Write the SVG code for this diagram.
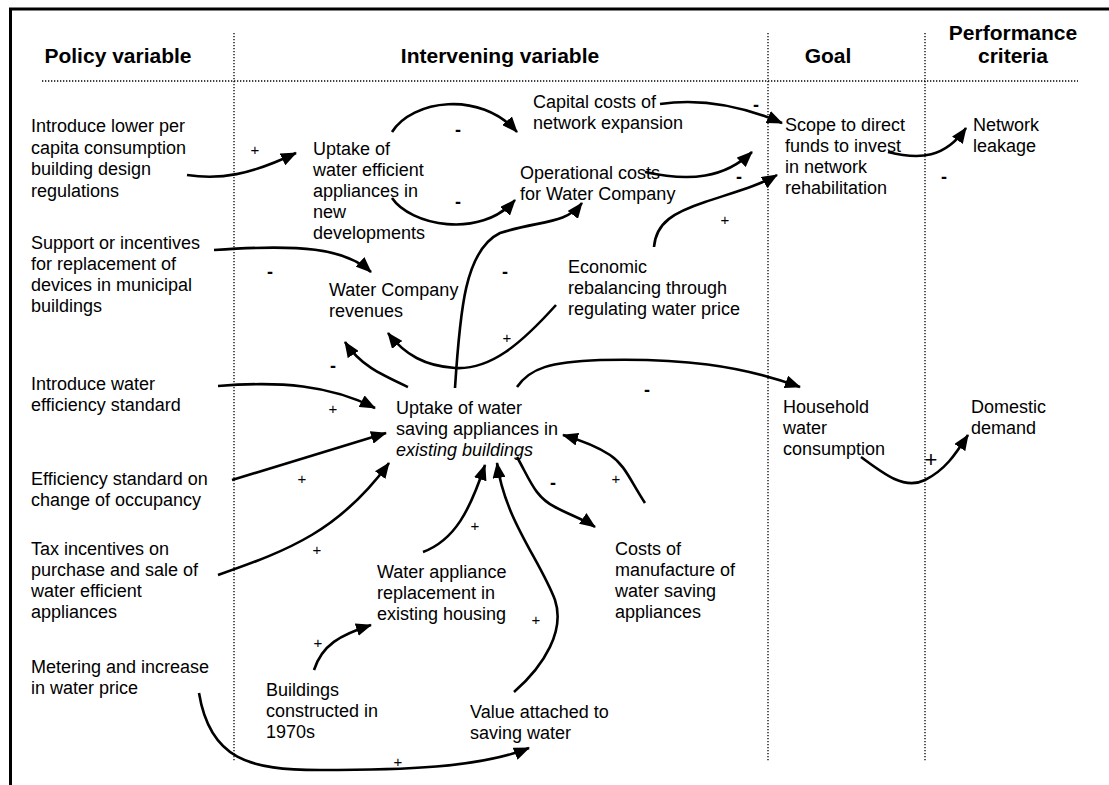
<svg xmlns="http://www.w3.org/2000/svg" width="1109" height="785" viewBox="0 0 1109 785">
<style>
text{font-family:"Liberation Sans",Arial,sans-serif;fill:#000}
.t{font-size:18px}
.h{font-size:21px;font-weight:bold;text-anchor:middle}
.s{font-size:15px;text-anchor:middle}
.m{font-size:18px;font-weight:bold;text-anchor:middle}
.c{fill:none;stroke:#000;stroke-width:2.6;marker-end:url(#ah)}
.d{fill:none;stroke:#000;stroke-width:1.3;stroke-dasharray:1.3 1.7}
</style>
<defs>
<marker id="ah" viewBox="0 0 16 13" refX="15" refY="6.5" markerWidth="16" markerHeight="13" markerUnits="userSpaceOnUse" orient="auto">
<path d="M0,0 L16,6.5 L0,13 z" fill="#000"/>
</marker>
</defs>
<rect width="1109" height="785" fill="#fff"/>
<g id="frame">
<line x1="9" y1="9" x2="1109" y2="9" stroke="#000" stroke-width="3"/>
<line x1="10.5" y1="9" x2="10.5" y2="785" stroke="#000" stroke-width="3"/>
<line class="d" x1="42" y1="81" x2="1078" y2="81"/>
<line class="d" x1="234" y1="33" x2="234" y2="761"/>
<line class="d" x1="768" y1="33" x2="768" y2="761"/>
<line class="d" x1="925" y1="33" x2="925" y2="761"/>
</g>
<g id="headers">
<text class="h" x="118" y="63">Policy variable</text>
<text class="h" x="500" y="63">Intervening variable</text>
<text class="h" x="828" y="63">Goal</text>
<text class="h" x="1013" y="40">Performance</text>
<text class="h" x="1013" y="63">criteria</text>
</g>
<g id="n_regulations" class="t"><text x="31" y="132">Introduce lower per</text><text x="31" y="154">capita consumption</text><text x="31" y="175">building design</text><text x="31" y="197">regulations</text></g>
<g id="n_uptake_new" class="t"><text x="313" y="155">Uptake of</text><text x="313" y="176">water efficient</text><text x="313" y="197">appliances in</text><text x="313" y="218">new</text><text x="313" y="239">developments</text></g>
<g id="n_capital" class="t"><text x="533" y="108">Capital costs of</text><text x="533" y="129">network expansion</text></g>
<g id="n_operational" class="t"><text x="520" y="179">Operational costs</text><text x="520" y="200">for Water Company</text></g>
<g id="n_scope" class="t"><text x="785" y="131">Scope to direct</text><text x="785" y="152">funds to invest</text><text x="785" y="173">in network</text><text x="785" y="194">rehabilitation</text></g>
<g id="n_leakage" class="t"><text x="973" y="131">Network</text><text x="973" y="152">leakage</text></g>
<g id="n_support" class="t"><text x="31" y="249">Support or incentives</text><text x="31" y="270">for replacement of</text><text x="31" y="291">devices in municipal</text><text x="31" y="312">buildings</text></g>
<g id="n_revenues" class="t"><text x="329" y="296">Water Company</text><text x="329" y="317">revenues</text></g>
<g id="n_economic" class="t"><text x="568" y="273">Economic</text><text x="568" y="294">rebalancing through</text><text x="568" y="315">regulating water price</text></g>
<g id="n_standard" class="t"><text x="31" y="390">Introduce water</text><text x="31" y="411">efficiency standard</text></g>
<g id="n_uptake_existing" class="t"><text x="396" y="414">Uptake of water</text><text x="396" y="435">saving appliances in</text><text x="396" y="456" font-style="italic">existing buildings</text></g>
<g id="n_household" class="t"><text x="783" y="413">Household</text><text x="783" y="434">water</text><text x="783" y="455">consumption</text></g>
<g id="n_domestic" class="t"><text x="971" y="413">Domestic</text><text x="971" y="434">demand</text></g>
<g id="n_occupancy" class="t"><text x="31" y="485">Efficiency standard on</text><text x="31" y="506">change of occupancy</text></g>
<g id="n_tax" class="t"><text x="31" y="555">Tax incentives on</text><text x="31" y="576">purchase and sale of</text><text x="31" y="597">water efficient</text><text x="31" y="618">appliances</text></g>
<g id="n_replacement" class="t"><text x="377" y="578">Water appliance</text><text x="377" y="599">replacement in</text><text x="377" y="620">existing housing</text></g>
<g id="n_costs" class="t"><text x="615" y="555">Costs of</text><text x="615" y="576">manufacture of</text><text x="615" y="597">water saving</text><text x="615" y="618">appliances</text></g>
<g id="n_metering" class="t"><text x="31" y="673">Metering and increase</text><text x="31" y="694">in water price</text></g>
<g id="n_buildings" class="t"><text x="266" y="696">Buildings</text><text x="266" y="717">constructed in</text><text x="266" y="738">1970s</text></g>
<g id="n_value" class="t"><text x="470" y="718">Value attached to</text><text x="470" y="739">saving water</text></g>
<g id="connectors">
<path class="c" d="M187,175 C220,180 250,175 296,153"/>
<path class="c" d="M392,132 C412,100 480,90 517,132"/>
<path class="c" d="M392,198 C410,225 480,240 515,200"/>
<path class="c" d="M660,104 C700,98 740,105 782,123"/>
<path class="c" d="M645,172 C690,182 725,178 752,152"/>
<path class="c" d="M888,152 C920,160 945,158 966,128"/>
<path class="c" d="M654,247 C656,222 675,212 705,202 C735,192 760,185 777,175"/>
<path class="c" d="M214,250 C300,244 345,248 371,272"/>
<path class="c" d="M455,388 C460,310 465,250 500,233 C540,220 565,225 582,203"/>
<path class="c" d="M556,305 C520,345 490,370 455,368 C425,366 405,355 388,333"/>
<path class="c" d="M408,387 C380,374 360,365 345,342"/>
<path class="c" d="M517,387 C530,368 550,362 600,360 C680,358 740,365 800,387"/>
<path class="c" d="M218,386 C280,381 330,385 375,408"/>
<path class="c" d="M232,480 L386,433"/>
<path class="c" d="M218,575 C290,550 340,530 389,463"/>
<path class="c" d="M423,552 C455,540 470,510 485,465"/>
<path class="c" d="M514,692 C545,665 565,630 555,600 C540,560 505,520 497,463"/>
<path class="c" d="M517,457 C530,480 535,497 555,507 C570,515 585,520 595,527"/>
<path class="c" d="M645,503 C630,480 625,465 610,455 C595,445 580,440 563,435"/>
<path class="c" d="M861,457 C885,475 905,490 925,480 C945,470 955,455 968,435"/>
<path class="c" d="M314,670 C322,645 340,635 371,625"/>
<path class="c" d="M199,693 C210,760 250,770 320,770 C400,770 480,768 529,748"/>
<g id="signs">
<text class="s" x="255" y="155">+</text>
<text class="m" x="458" y="136">-</text>
<text class="m" x="458" y="208">-</text>
<text class="m" x="756" y="111">-</text>
<text class="m" x="739" y="183">-</text>
<text class="m" x="944" y="183">-</text>
<text class="s" x="725" y="225">+</text>
<text class="m" x="270" y="278">-</text>
<text class="m" x="505" y="278">-</text>
<text class="s" x="507" y="343">+</text>
<text class="m" x="333" y="372">-</text>
<text class="s" x="333" y="414">+</text>
<text class="m" x="647" y="396">-</text>
<text class="s" x="302" y="484">+</text>
<text class="s" x="317" y="555">+</text>
<text class="s" x="475" y="531">+</text>
<text class="m" x="553" y="489">-</text>
<text class="s" x="616" y="484">+</text>
<text x="931" y="467" font-size="22" text-anchor="middle">+</text>
<text class="s" x="318" y="648">+</text>
<text class="s" x="536" y="625">+</text>
<text class="s" x="398" y="767">+</text>
</g>
</g>
</svg>
